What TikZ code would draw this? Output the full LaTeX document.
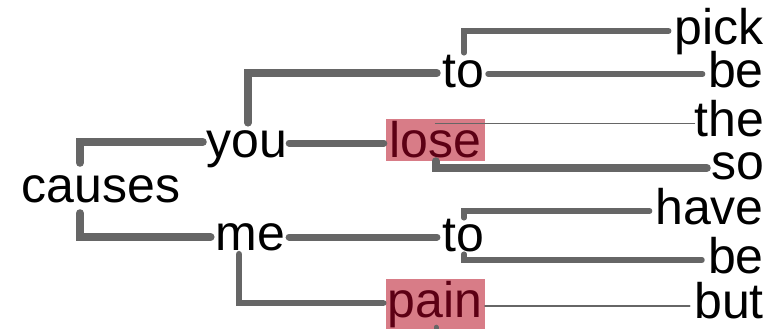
\documentclass[tikz,border=0pt]{standalone}
\usepackage{fontspec}
\setmainfont{Liberation Sans}
\usetikzlibrary{calc}
\definecolor{linegray}{HTML}{666666}
\definecolor{hlfill}{HTML}{D87C87}
\definecolor{hltext}{HTML}{5C0014}
\tikzset{
  word/.style={font=\fontsize{50}{50}\selectfont, inner sep=0pt, text height=26pt, text depth=0pt},
  hl/.style={font=\fontsize{50}{50}\selectfont, inner xsep=0pt, inner ysep=0pt, minimum width=99pt,
    fill=hlfill, text=hltext, text height=38pt},
  conn/.style={draw=linegray, line cap=round},
}
\begin{document}
\begin{tikzpicture}[x=1pt,y=-1pt]
\useasboundingbox (0,0) rectangle (768,329);
\clip (0,0) rectangle (768,329);
% nodes
\node[word, anchor=base] (causes) at (101,202) {causes};
\node[word, anchor=base] (you) at (247,157) {you};
\node[word, anchor=base] (me) at (250.5,250) {me};
\node[word, anchor=base] (to1) at (463,88) {to};
\node[word, anchor=base] (to2) at (463,251) {to};
\node[hl, text depth=4pt, anchor=base] (lose) at (435.5,157) {lose};
\node[hl, text depth=15pt, anchor=base] (pain) at (435,317) {pain};
\node[word, anchor=base east] (pick) at (764,45) {pick};
\node[word, anchor=base east] (be1) at (764,87) {be};
\node[word, anchor=base east] (the) at (764,136) {the};
\node[word, anchor=base east] (so) at (764,179) {so};
\node[word, anchor=base east] (have) at (764,224) {have};
\node[word, anchor=base east] (be2) at (764,273) {be};
\node[word, anchor=base east] (but) at (764,318) {but};
% connectors
\draw[conn, line width=8pt] ([xshift=-21pt,yshift=13pt]causes.north) |- ([xshift=-3.7pt,yshift=2pt]you.west);
\draw[conn, line width=8pt] ([xshift=-21pt,yshift=-11pt]causes.south) |- ([xshift=-5pt]me.west);
\draw[conn, line width=7.5pt] ([xshift=1pt,yshift=8pt]you.north) |- ([xshift=-5pt,yshift=2pt]to1.west);
\draw[conn, line width=7pt] ([xshift=1.7pt,yshift=1pt]you.east) -- ($(lose.west |- you.east)+(-2,-1)$);
\draw[conn, line width=7pt] ([xshift=3.7pt]me.east) -- ([xshift=-5pt]to2.west |- me.east);
\draw[conn, line width=6.5pt] ([xshift=-11.5pt,yshift=-4pt]me.south) |- ([xshift=-2pt,yshift=2.5pt]pain.west);
\draw[conn, line width=5.5pt] ([xshift=1pt,yshift=9pt]to1.north) |- ([xshift=-6pt,yshift=1pt]pick.west);
\draw[conn, line width=5.5pt] ([xshift=4pt,yshift=1pt]to1.east) -- ($(be1.west |- to1.east)+(-5.4,-1)$);
\draw[conn, line width=1.2pt] ([yshift=-5pt]lose.north) -- ($(the.west |- lose.north)+(0.5,5)$);
\draw[conn, line width=8pt] (lose.south) |- ([xshift=-4pt,yshift=-2pt]so.west);
\draw[conn, line width=5.5pt] ([xshift=1pt,yshift=7pt]to2.north) |- ([xshift=-5.6pt]have.west);
\draw[conn, line width=5.5pt] ([xshift=1pt,yshift=-3pt]to2.south) |- ([xshift=-6pt]be2.west);
\draw[conn, line width=2pt] ($(pain.east |- but.west)+(0.5,1)$) -- ([xshift=-4.5pt,yshift=-1pt]but.west);
\draw[conn, line width=5pt] ([xshift=1pt,yshift=5pt]pain.south) -- ++(0,20);
\end{tikzpicture}
\end{document}
